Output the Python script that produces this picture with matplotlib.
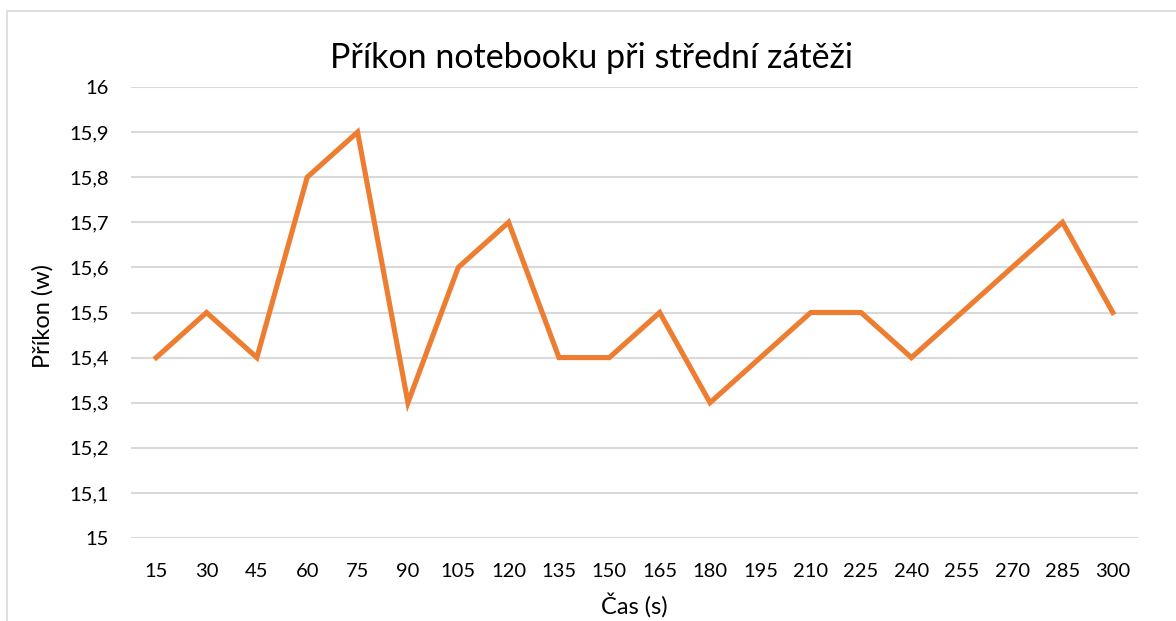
import matplotlib.pyplot as plt
from matplotlib.patches import Rectangle
from matplotlib.ticker import FuncFormatter

plt.rcParams['font.family'] = ['Lato', 'DejaVu Sans']

cas = [15, 30, 45, 60, 75, 90, 105, 120, 135, 150, 165, 180, 195, 210, 225, 240, 255, 270, 285, 300]
prikon = [15.4, 15.5, 15.4, 15.8, 15.9, 15.3, 15.6, 15.7, 15.4, 15.4,
          15.5, 15.3, 15.4, 15.5, 15.5, 15.4, 15.5, 15.6, 15.7, 15.5]
y_ticks = [15.0, 15.1, 15.2, 15.3, 15.4, 15.5, 15.6, 15.7, 15.8, 15.9, 16.0]

W, H = 1176, 621
fig = plt.figure(figsize=(W / 100, H / 100), dpi=100)
ax = fig.add_axes([131 / W, 1 - 538 / H, (1138 - 131) / W, (538 - 87) / H])

# chart border (like excel chart area)
fig.patches.append(Rectangle((7 / W, -0.01), 1.2, 1 - 11 / H + 0.01, transform=fig.transFigure,
                             fill=False, edgecolor='#d9d9d9', linewidth=1.2))

idx = list(range(len(cas)))
ax.plot(idx, prikon, color='#ed7d31', linewidth=3.7, solid_joinstyle='miter')

ax.set_xlim(-0.5, len(cas) - 0.5)
ax.set_ylim(15, 16)
ax.set_yticks(y_ticks)
ax.yaxis.set_major_formatter(FuncFormatter(lambda v, p: ('%g' % round(v, 1)).replace('.', ',')))
ax.set_xticks(idx)
ax.set_xticklabels([str(c) for c in cas])
ax.grid(axis='y', color='#d9d9d9', linewidth=1.5)
ax.set_axisbelow(True)
for s in ax.spines.values():
    s.set_visible(False)
ax.tick_params(length=0, labelsize=14.5, colors='#000000')
ax.tick_params(axis='y', pad=16)
ax.tick_params(axis='x', pad=18)

fig.text(591 / W, 1 - 58 / H, 'Příkon notebooku při střední zátěži', ha='center', va='center', fontsize=24.5)
fig.text(634 / W, 1 - 605 / H, 'Čas (s)', ha='center', va='center', fontsize=17)
fig.text(43 / W, 1 - 316 / H, 'Příkon (w)', ha='center', va='center', rotation=90, fontsize=17)

fig.savefig('out.png', dpi=100)
